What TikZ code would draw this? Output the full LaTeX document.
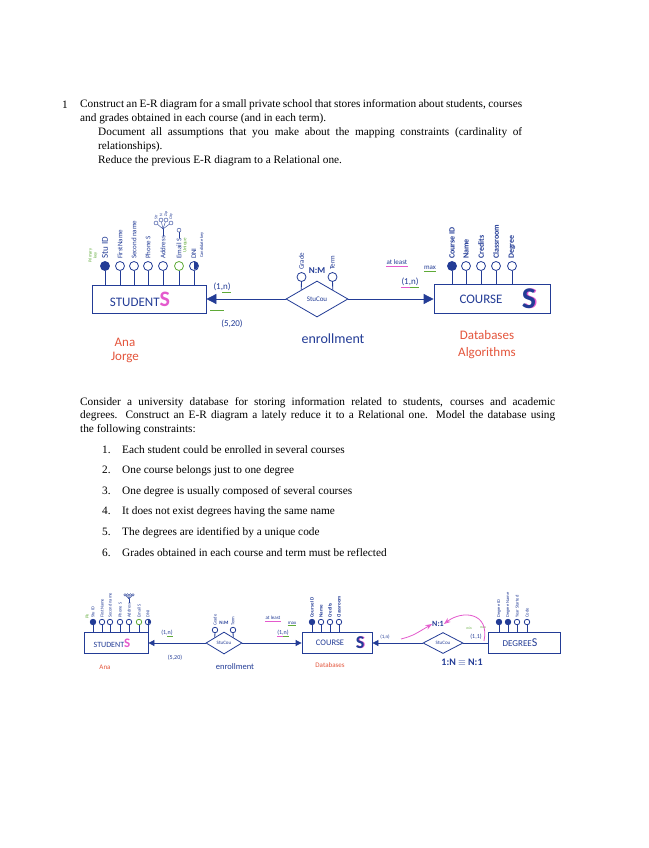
\documentclass[tikz,border=0pt]{standalone}
\usepackage{fontspec}
\setmainfont{Liberation Serif}
\newfontfamily\hand{Carlito}
\usetikzlibrary{arrows.meta,positioning,shapes.geometric}
\definecolor{erblue}{RGB}{35,60,150}
\definecolor{hred}{RGB}{228,85,60}
\definecolor{hgreen}{RGB}{95,170,55}
\definecolor{hpink}{RGB}{228,90,205}

\begin{document}
\begin{tikzpicture}[x=1pt,y=-1pt,
  every node/.style={inner sep=0pt},
  txt/.style={anchor=north west, font=\fontsize{11.3}{14}\selectfont, align=justify},
  entity/.style={draw=erblue, thick},
  relship/.style={diamond, aspect=2, draw=erblue, thick, fill=white, text=erblue, font=\hand\scriptsize},
  attr/.style={circle, draw=erblue, thick, fill=white, minimum size=9pt},
  keyattr/.style={attr, fill=erblue},
  uqattr/.style={attr, draw=hgreen},
  sattr/.style={circle, draw=erblue, thick, fill=white, minimum size=5.5pt},
  skeyattr/.style={sattr, fill=erblue},
  suqattr/.style={sattr, draw=hgreen},
  alab/.style={rotate=90, anchor=west, text=erblue, font=\hand\scriptsize},
  salab/.style={rotate=90, anchor=west, text=erblue, font=\hand\fontsize{4.5}{5}\selectfont},
  link/.style={draw=erblue, thick},
  tip/.style={-{Triangle[length=10pt,width=10pt]}},
  stip/.style={-{Triangle[length=6pt,width=6pt]}},
  hw/.style={text=erblue, font=\hand\small},
  redhw/.style={text=hred, font=\hand\fontsize{13}{13}\selectfont}
]
\useasboundingbox[fill=white] (0,0) rectangle (648,848);

% question 1
\node[anchor=base west, font=\fontsize{11.3}{14}\selectfont] (n1) at (62,108.5) {1};
\node[txt, text width=442pt] (q1) at (80,99) {Construct an E-R diagram for a small private school that stores information about students, courses\linebreak and grades obtained in each course (and in each term).};
\node[txt, text width=424pt] (q1b) at (98,127) {Document all assumptions that you make about the mapping constraints (cardinality of\linebreak relationships).\par Reduce the previous E-R diagram to a Relational one.};

% first E-R diagram
\node[entity, minimum width=114pt, minimum height=28pt] (stu) at (149,299) {};
\node[hw, font=\hand\fontsize{13}{13}\selectfont] (stut) at (140,299) {STUDENT{\color{hpink}\bfseries\fontsize{22}{22}\selectfont S}};

\foreach \x/\lab/\sty [count=\i] in {105/{\small Stu ID}/keyattr, 120/FirstName/attr, 134/Second name/attr,
    148/Phone S/attr, 163/Address/attr, 179/Email S/uqattr, 194/DNI/attr}{
  \node[\sty] (sa\i) at (\x,266) {};
  \node[alab] (sl\i) at ([yshift=2pt]sa\i.north) {\lab};
  \draw[link] (sa\i) -- (sa\i |- stu.north);
}
\fill[erblue] (sa7.north) arc[start angle=90, end angle=-90, radius=4.3pt] -- cycle;
\node[alab, text=hgreen, font=\hand\fontsize{4.5}{5}\selectfont, align=center] (pk) at ([xshift=-12pt,yshift=-2pt]sa1.north) {Primary\\key};
\node[alab, text=hgreen, font=\hand\fontsize{5}{5}\selectfont] (euq) at ([xshift=6pt,yshift=8pt]sa6.north) {Unique};
\node[alab, font=\hand\fontsize{4.5}{5}\selectfont] (dnik) at ([xshift=8pt,yshift=3pt]sa7.north) {Candidate key};

% composite address
\draw[link, thin] (sl5.east) -- ++(0,-7) coordinate (afork);
\foreach \dx/\dy/\t [count=\j] in {-7/-6/Str, -2/-9/N, 3/-9/Zip, 8/-6/City}{
  \node[attr, thin, minimum size=4pt] (sub\j) at ([shift={(\dx,\dy)}]afork) {};
  \draw[link, thin] (afork) -- (sub\j);
  \node[alab, font=\hand\fontsize{4}{4}\selectfont] (subl\j) at ([yshift=1pt]sub\j.north) {\t};
}
% multivalued email
\draw[link, thin] (sl6.east) -- ++(0,-6) node[attr, thin, minimum size=4pt, anchor=south] (emv) {};

\node[relship, minimum width=62pt, minimum height=36pt] (d1) at (317,299) {StuCou};
\node[attr] (gr) at (301.5,277) {};
\node[alab] (grl) at ([yshift=2pt]gr.north) {Grade};
\node[attr] (tm) at (332.5,277) {};
\node[alab] (tml) at ([yshift=2pt]tm.north) {Term};
\draw[link] (gr) -- (d1.north west);
\draw[link] (tm) -- (d1.north east);
\node[hw, font=\hand\bfseries\small] (nm) at (317,271) {N:M};
\node[hw, font=\hand\fontsize{14}{14}\selectfont] (enr) at (333,339) {enrollment};

\node[entity, minimum width=116pt, minimum height=29pt] (crs) at (492,299) {};
\node[hw, font=\hand\fontsize{13}{13}\selectfont] (crst) at (481,299) {COURSE};
\node[text=erblue, font=\hand\bfseries\fontsize{30}{30}\selectfont] (crss) at (529,299) {\rlap{\color{hpink}\kern1.5pt S}S};
\foreach \x/\lab/\sty [count=\i] in {452/Course ID/keyattr, 466/Name/attr, 481/Credits/attr,
    496/Classroom/attr, 512/Degree/attr}{
  \node[\sty] (ca\i) at (\x,266) {};
  \node[alab, font=\hand\bfseries\footnotesize] (cl\i) at ([yshift=2pt]ca\i.north) {\lab};
  \draw[link] (ca\i) -- (ca\i |- crs.north);
}

\draw[link, tip] (d1) -- (stu);
\draw[link, tip] (d1) -- (crs);

\node[hw] (c1) at (222,287) {(1,n)};
\draw[hgreen, thick] ([yshift=-1.5pt]c1.south) -- ([yshift=-1.5pt]c1.south east);
\draw[hgreen, thick] ([shift={(4,11)}]stu.east) -- ++(14,0);
\node[hw] (c2) at (232,324) {(5,20)};
\node[hw, font=\hand\scriptsize] (atl) at (397,262) {at least};
\draw[hpink, thick] ([yshift=-1.5pt]atl.south west) -- ([yshift=-1.5pt]atl.south east);
\node[hw, font=\hand\scriptsize] (mx) at (430,268) {max};
\draw[hgreen, thick] ([yshift=-1.5pt]mx.south west) -- ([yshift=-1.5pt]mx.south east);
\node[hw] (c3) at (410,282) {(1,n)};
\draw[hpink, thick] ([yshift=-1.5pt]c3.south west) -- ([yshift=-1.5pt]c3.south);
\draw[hgreen, thick] ([yshift=-1.5pt]c3.south) -- ([yshift=-1.5pt]c3.south east);

\node[redhw] (ana1) at (125,342) {Ana};
\node[redhw] (jor) at (125,357) {Jorge};
\node[redhw] (db1) at (487,335) {Databases};
\node[redhw] (alg) at (487,353) {Algorithms};

% question 2
\node[txt, text width=475pt, font=\fontsize{11.3}{13.6}\selectfont] (q2) at (80,397) {Consider a university database for storing information related to students, courses and academic\linebreak degrees. Construct an E-R diagram a lately reduce it to a Relational one. Model the database using\linebreak the following constraints:};
\foreach \t [count=\i] in {Each student could be enrolled in several courses,
    One course belongs just to one degree,
    One degree is usually composed of several courses,
    It does not exist degrees having the same name,
    The degrees are identified by a unique code,
    Grades obtained in each course and term must be reflected}{
  \node[anchor=base west, font=\fontsize{11.3}{14}\selectfont] (it\i) at (102,{453+(\i-1)*20.6}) {\i.};
  \node[anchor=base west, font=\fontsize{11.3}{14}\selectfont] (itt\i) at (122,{453+(\i-1)*20.6}) {\t};
}

% second E-R diagram
\node[entity, minimum width=64pt, minimum height=21pt] (stu2) at (116,643) {};
\node[hw, font=\hand\fontsize{8}{8}\selectfont] (stu2t) at (112,643) {STUDENT{\color{hpink}\bfseries\fontsize{13}{13}\selectfont S}};
\foreach \x/\lab/\sty [count=\i] in {93/Stu ID/skeyattr, 102/FirstName/sattr, 110/Second name/sattr,
    120/Phone S/sattr, 129/Address/sattr, 139/Email S/suqattr, 148/DNI/sattr}{
  \node[\sty] (sb\i) at (\x,622) {};
  \node[salab] (sbl\i) at ([yshift=1pt]sb\i.north) {\lab};
  \draw[link] (sb\i) -- (sb\i |- stu2.north);
}
\fill[erblue] (sb7.north) arc[start angle=90, end angle=-90, radius=2.6pt] -- cycle;
\node[salab, text=hgreen] (pk2) at ([xshift=-6pt]sb1.north) {Pk};
\draw[link, thin] (sbl5.east) -- ++(0,-4) coordinate (bfork);
\foreach \dx [count=\j] in {-4,-1.5,1.5,4}{
  \node[sattr, thin, minimum size=2.5pt] (sbs\j) at ([shift={(\dx,-4)}]bfork) {};
  \draw[link, thin] (bfork) -- (sbs\j);
}

\node[relship, font=\hand\fontsize{5}{5}\selectfont, minimum width=36pt, minimum height=22pt] (d2) at (224,643) {StuCou};
\node[sattr] (gr2) at (215,630) {};
\node[salab] (gr2l) at ([yshift=1pt]gr2.north) {Grade};
\node[sattr] (tm2) at (233,630) {};
\node[salab] (tm2l) at ([yshift=1pt]tm2.north) {Term};
\draw[link] (gr2) -- (d2.north west);
\draw[link] (tm2) -- (d2.north east);
\node[hw, font=\hand\bfseries\fontsize{5}{5}\selectfont] (nm2) at (224,623) {N:M};
\node[hw, font=\hand\fontsize{8.5}{8.5}\selectfont] (enr2) at (235,667) {enrollment};

\node[entity, minimum width=70pt, minimum height=21pt] (crs2) at (337,643) {};
\node[hw, font=\hand\fontsize{8.5}{8.5}\selectfont] (crs2t) at (330,643) {COURSE};
\node[text=erblue, font=\hand\bfseries\fontsize{18}{18}\selectfont] (crs2s) at (360,643) {\rlap{\color{hpink}\kern1pt S}S};
\foreach \x/\lab/\sty [count=\i] in {312/Course ID/skeyattr, 321/Name/sattr, 330/Credits/sattr, 339/Classroom/sattr}{
  \node[\sty] (cb\i) at (\x,622) {};
  \node[salab, font=\hand\bfseries\fontsize{5}{5}\selectfont] (cbl\i) at ([yshift=1pt]cb\i.north) {\lab};
  \draw[link] (cb\i) -- (cb\i |- crs2.north);
}

\node[relship, font=\hand\fontsize{5}{5}\selectfont, minimum width=40pt, minimum height=21pt] (d3) at (443,643) {StuCou};
\node[entity, minimum width=72pt, minimum height=21pt] (deg) at (524,643) {};
\node[hw, font=\hand\fontsize{9}{9}\selectfont] (degt) at (520,643) {DEGREE{\fontsize{12}{12}\selectfont S}};
\foreach \x/\lab/\sty [count=\i] in {499/Degree ID/skeyattr, 508/Degree Name/skeyattr, 517/Year Started/sattr, 527/Code/sattr}{
  \node[\sty] (db\i) at (\x,622) {};
  \node[salab] (dbl\i) at ([yshift=1pt]db\i.north) {\lab};
  \draw[link] (db\i) -- (db\i |- deg.north);
}

\draw[link, stip] (d2) -- (stu2);
\draw[link, stip] (d2) -- (crs2);
\draw[link, stip] (d3) -- (crs2);
\draw[link] (d3) -- (deg);

\node[hw, font=\hand\fontsize{6}{6}\selectfont] (c4) at (167,633) {(1,n)};
\draw[hgreen, thick] ([yshift=-1pt]c4.south) -- ([yshift=-1pt]c4.south east);
\node[hw, font=\hand\fontsize{6}{6}\selectfont] (c5) at (175,658) {(5,20)};
\node[hw, font=\hand\fontsize{5}{5}\selectfont] (atl2) at (273,618) {at least};
\draw[hpink, thin] ([yshift=-1pt]atl2.south west) -- ([yshift=-1pt]atl2.south east);
\node[hw, font=\hand\fontsize{5}{5}\selectfont] (mx2) at (292,623) {max};
\draw[hgreen, thin] ([yshift=-1pt]mx2.south west) -- ([yshift=-1pt]mx2.south east);
\node[hw, font=\hand\fontsize{6}{6}\selectfont] (c6) at (283,633) {(1,n)};
\draw[hpink, thick] ([yshift=-1pt]c6.south west) -- ([yshift=-1pt]c6.south);
\draw[hgreen, thick] ([yshift=-1pt]c6.south) -- ([yshift=-1pt]c6.south east);
\node[hw, font=\hand\fontsize{5}{5}\selectfont] (c7) at (385,637) {(1,n)};
\node[hw, font=\hand\fontsize{6}{6}\selectfont] (c8) at (476,637) {(1,1)};
\node[text=hgreen, font=\hand\fontsize{3.5}{4}\selectfont] (mn8) at (469,628) {min};
\node[text=hgreen, font=\hand\fontsize{3.5}{4}\selectfont] (mx8) at (483,628) {max};
\node[hw, font=\hand\bfseries\fontsize{8}{8}\selectfont] (nto1) at (438,624) {N:1};
\node[hw, font=\hand\bfseries\fontsize{10}{10}\selectfont] (eqv) at (462,662) {1:N $\equiv$ N:1};

\coordinate (pk1) at (484,641);
\coordinate (pk2) at (401,639);
\draw[hpink, thick, -{Stealth[open]}] (pk1) .. controls (490,612) and (462,610) .. (nto1.east);
\draw[hpink, thick, -{Stealth[open]}] (pk2) .. controls (412,636) .. (nto1.west);

\node[redhw, font=\hand\fontsize{7}{7}\selectfont] (ana2) at (105,667) {Ana};
\node[redhw, font=\hand\fontsize{7}{7}\selectfont] (db2) at (330,665) {Databases};
\end{tikzpicture}
\end{document}
